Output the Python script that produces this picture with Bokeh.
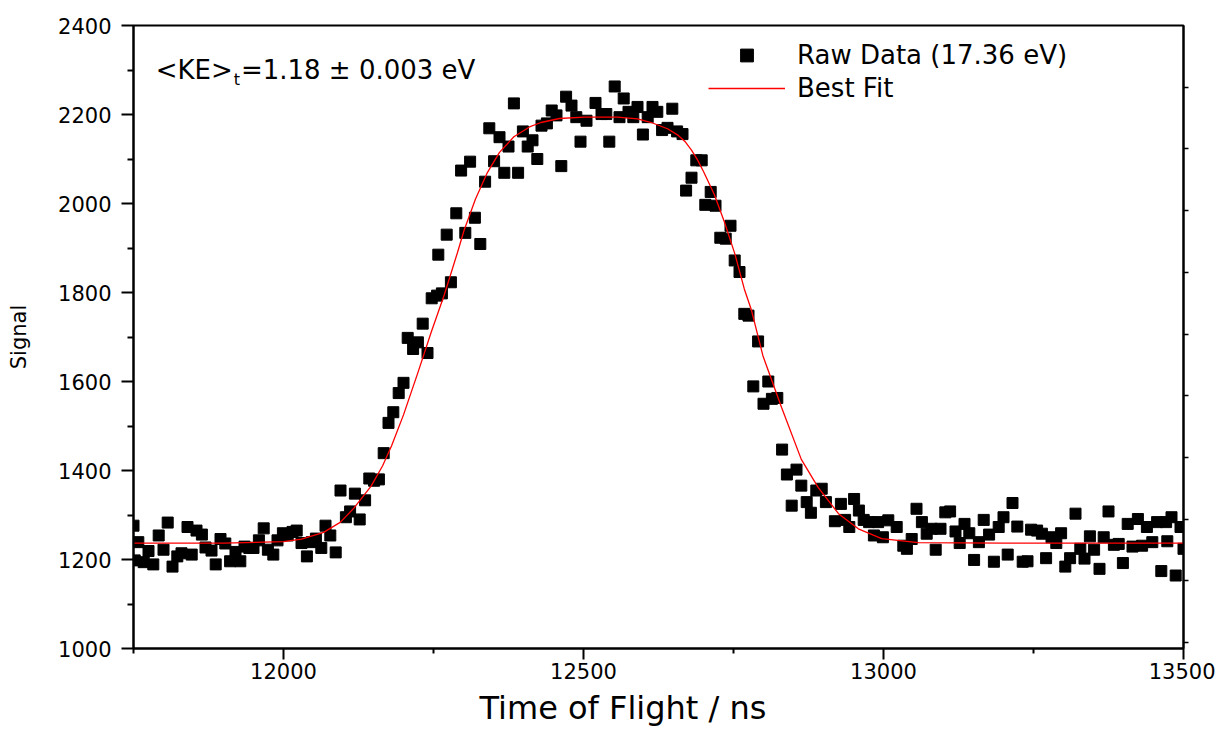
from bokeh.plotting import figure
from bokeh.models import (Range1d, LinearAxis, FixedTicker, Label, Legend, LegendItem,
                          ColumnDataSource, Title)
from bokeh.embed import file_html
from bokeh.resources import INLINE

# ---------------- data ----------------
tof_ns = [11750, 11752, 11758, 11767, 11775, 11783, 11792, 11800, 11807, 11815, 11823, 11830,
          11840, 11847, 11855, 11864, 11870, 11880, 11887, 11895, 11903, 11911, 11920, 11928,
          11935, 11943, 11950, 11959, 11967, 11974, 11983, 11990, 11999, 12007, 12015, 12022,
          12030, 12039, 12047, 12054, 12063, 12070, 12078, 12087, 12095, 12104, 12111, 12119,
          12127, 12136, 12143, 12151, 12159, 12167, 12175, 12183, 12192, 12200, 12207, 12216,
          12224, 12232, 12240, 12247, 12256, 12258, 12264, 12272, 12279, 12288, 12296, 12303,
          12311, 12319, 12328, 12336, 12343, 12351, 12360, 12368, 12375, 12384, 12391, 12399,
          12407, 12415, 12423, 12430, 12439, 12447, 12455, 12463, 12471, 12480, 12488, 12495,
          12505, 12520, 12530, 12538, 12543, 12552, 12560, 12567, 12575, 12583, 12590, 12599,
          12607, 12615, 12623, 12631, 12640, 12648, 12656, 12665, 12671, 12680, 12688, 12697,
          12703, 12712, 12720, 12728, 12737, 12745, 12752, 12760, 12768, 12775, 12783, 12791,
          12800, 12808, 12814, 12823, 12831, 12839, 12847, 12855, 12863, 12872, 12879, 12888,
          12897, 12904, 12919, 12929, 12936, 12943, 12951, 12959, 12967, 12976, 12984, 12991,
          12999, 13008, 13022, 13033, 13039, 13047, 13055, 13064, 13072, 13080, 13087, 13095,
          13103, 13111, 13120, 13127, 13135, 13143, 13151, 13159, 13167, 13176, 13184, 13192,
          13200, 13207, 13215, 13223, 13232, 13240, 13246, 13256, 13264, 13271, 13280, 13288,
          13296, 13303, 13311, 13320, 13328, 13335, 13344, 13351, 13360, 13367, 13375, 13384,
          13392, 13399, 13407, 13415, 13424, 13431, 13439, 13448, 13456, 13463, 13471, 13473,
          13480, 13487, 13495, 13500]
signal = [1276, 1198, 1239, 1194, 1219, 1189, 1254, 1222, 1283, 1184, 1207, 1214,
          1273, 1211, 1265, 1256, 1227, 1220, 1189, 1246, 1236, 1196, 1217, 1196,
          1229, 1226, 1226, 1243, 1270, 1222, 1211, 1243, 1259, 1254, 1262, 1265,
          1237, 1207, 1239, 1247, 1226, 1276, 1254, 1216, 1355, 1295, 1308, 1348,
          1290, 1333, 1382, 1377, 1380, 1439, 1507, 1531, 1574, 1597, 1698, 1673,
          1688, 1730, 1664, 1787, 1793, 1885, 1798, 1930, 1823, 1978, 2074, 1934,
          2094, 1968, 1909, 2049, 2169, 2095, 2149, 2069, 2128, 2225, 2069, 2162,
          2128, 2142, 2100, 2175, 2180, 2209, 2198, 2084, 2240, 2220, 2194, 2139,
          2186, 2226, 2201, 2201, 2139, 2263, 2194, 2236, 2206, 2194, 2217, 2155,
          2194, 2217, 2206, 2165, 2170, 2213, 2162, 2156, 2029, 2058, 2097, 2097,
          1997, 2026, 1995, 1923, 1921, 1950, 1872, 1846, 1752, 1748, 1589, 1690,
          1550, 1600, 1561, 1563, 1447, 1391, 1321, 1402, 1366, 1329, 1305, 1355,
          1359, 1329, 1286, 1325, 1289, 1273, 1336, 1310, 1289, 1284, 1254, 1284,
          1250, 1288, 1273, 1231, 1224, 1246, 1314, 1284, 1258, 1269, 1222, 1269,
          1306, 1308, 1263, 1237, 1280, 1259, 1199, 1239, 1289, 1256, 1195, 1273,
          1295, 1211, 1327, 1274, 1195, 1196, 1267, 1265, 1258, 1203, 1250, 1237,
          1259, 1184, 1203, 1303, 1224, 1202, 1252, 1222, 1179, 1250, 1308, 1233,
          1235, 1192, 1280, 1229, 1291, 1231, 1273, 1239, 1284, 1174, 1284, 1241,
          1295, 1164, 1273, 1224]

fit_tof_ns = [11750, 11900, 12000, 12030, 12067, 12095, 12117, 12146, 12165, 12180, 12200,
              12224, 12246, 12268, 12290, 12301, 12320, 12340, 12360, 12384, 12410, 12429,
              12460, 12501, 12557, 12590, 12613, 12640, 12658, 12670, 12680, 12690, 12700,
              12718, 12735, 12752, 12768, 12780, 12799, 12830, 12863, 12891, 12925, 12958,
              12997, 13058, 13200, 13500]
fit_signal = [1237, 1237, 1240, 1246, 1261, 1284, 1315, 1365, 1410, 1455, 1525,
              1620, 1710, 1795, 1890, 1940, 2010, 2070, 2115, 2150, 2172, 2182,
              2191, 2194, 2194, 2190, 2182, 2168, 2153, 2138, 2120, 2098, 2072,
              2020, 1958, 1888, 1808, 1760, 1658, 1542, 1425, 1362, 1303, 1269,
              1247, 1238, 1237, 1237]

x_major_ticks = [12000, 12500, 13000, 13500]
x_minor_ticks = [11750, 12250, 12750, 13250]
y_major_ticks = [1000, 1200, 1400, 1600, 1800, 2000, 2200, 2400]
y_minor_ticks = [1100, 1300, 1500, 1700, 1900, 2100, 2300]

series_label = "Raw Data (17.36 eV)"
fit_label = "Best Fit"
annotation_main = "<KE>"
annotation_sub = "t"
annotation_rest = "=1.18 \u00b1 0.003 eV"
x_title = "Time of Flight / ns"
y_title = "Signal"

FONT = "DejaVu Sans"

# ---------------- figure ----------------
p = figure(width=1215, height=736, output_backend="svg", toolbar_location=None,
           x_range=Range1d(11750, 13500), y_range=Range1d(1000, 2400),
           min_border_left=133, min_border_right=32, min_border_top=25,
           min_border_bottom=88, background_fill_color="white",
           border_fill_color="white")
p.xgrid.visible = False
p.ygrid.visible = False
p.outline_line_color = "black"
p.outline_line_width = 2
p.outline_line_alpha = 1.0

src = ColumnDataSource(dict(x=tof_ns, y=signal))
fit_src = ColumnDataSource(dict(x=fit_tof_ns, y=fit_signal))

r_pts = p.scatter("x", "y", source=src, marker="square", size=11,
                  fill_color="black", line_color="black")
r_fit = p.line("x", "y", source=fit_src, line_color="#ff0000", line_width=1.3)

# x axis
xa = p.xaxis[0]
xa.ticker = FixedTicker(ticks=x_major_ticks, minor_ticks=x_minor_ticks)
xa.axis_line_width = 2
xa.major_tick_line_width = 2
xa.minor_tick_line_width = 2
xa.major_tick_out = 11
xa.major_tick_in = 0
xa.minor_tick_out = 5
xa.minor_tick_in = 0
xa.major_label_standoff = 3
xa.major_label_text_font = FONT
xa.major_label_text_font_size = "21px"
xa.major_label_text_color = "black"

# y axis
ya = p.yaxis[0]
ya.ticker = FixedTicker(ticks=y_major_ticks, minor_ticks=y_minor_ticks)
ya.axis_line_width = 2
ya.major_tick_line_width = 2
ya.minor_tick_line_width = 2
ya.major_tick_out = 12
ya.major_tick_in = 0
ya.minor_tick_out = 6
ya.minor_tick_in = 0
ya.major_label_standoff = 10
ya.major_label_text_font = FONT
ya.major_label_text_font_size = "21px"
ya.major_label_text_color = "black"
ya.axis_label = y_title
ya.axis_label_text_font = FONT
ya.axis_label_text_font_size = "21px"
ya.axis_label_text_font_style = "normal"
ya.axis_label_text_color = "black"
ya.axis_label_standoff = 24

# right decorative axis (ticks only, empty labels)
right_ticks = [0, 1, 2, 3, 4, 5, 6, 7, 8, 9]
p.extra_y_ranges = {"right": Range1d(-0.097, 10.0)}
ra = LinearAxis(y_range_name="right", ticker=FixedTicker(ticks=right_ticks),
                major_label_overrides={t: "" for t in right_ticks},
                axis_line_width=2,
                major_tick_out=5, major_tick_in=0, major_tick_line_width=1.5,
                minor_tick_out=0, minor_tick_in=0, major_label_standoff=0)
p.add_layout(ra, "right")

# x axis title (placed left of frame centre, as in the reference)
p.add_layout(Title(text=x_title, align="left", offset=346, text_font=FONT,
                   text_font_size="32px", text_font_style="normal",
                   text_color="black", standoff=10), "below")

# annotation <KE>_t = ...
p.add_layout(Label(x=11787, y=2301, text=annotation_main, text_align="left",
                   text_baseline="alphabetic", text_font=FONT,
                   text_font_size="26px", text_color="black"))
p.add_layout(Label(x=11917, y=2279, text=annotation_sub, text_align="left",
                   text_baseline="alphabetic", text_font=FONT,
                   text_font_size="16px", text_color="black"))
p.add_layout(Label(x=11929, y=2301, text=annotation_rest, text_align="left",
                   text_baseline="alphabetic", text_font=FONT,
                   text_font_size="26px", text_color="black"))

legend = Legend(items=[LegendItem(label=series_label, renderers=[r_pts]),
                       LegendItem(label=fit_label, renderers=[r_fit])],
                location=(575, 544), glyph_width=77, glyph_height=32,
                label_standoff=12, spacing=1, padding=0, margin=0,
                border_line_color=None, background_fill_alpha=0,
                label_text_font=FONT, label_text_font_size="26px",
                label_text_color="black")
p.add_layout(legend, "center")

open("out.html", "w").write(file_html(p, INLINE))
